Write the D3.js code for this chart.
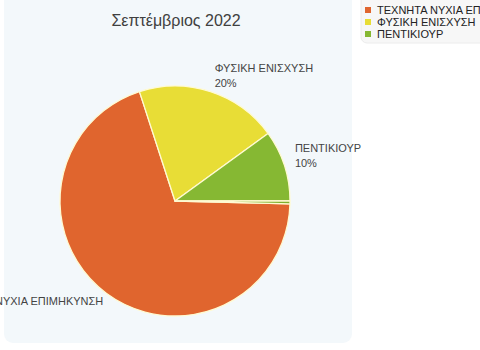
<!DOCTYPE html>
<html>
<head>
<meta charset="utf-8">
<script src="https://cdn.jsdelivr.net/npm/d3@7"></script>
<style>
  html, body { margin: 0; padding: 0; background: #ffffff; }
  svg { display: block; font-family: "Liberation Sans", Arial, sans-serif; }
</style>
</head>
<body>
<svg id="chart" width="480" height="350"></svg>
<script>
const title = "Σεπτέμβριος 2022";
const categories = ["ΤΕΧΝΗΤΑ ΝΥΧΙΑ ΕΠΙΜΗΚΥΝΣΗ", "ΦΥΣΙΚΗ ΕΝΙΣΧΥΣΗ", "ΠΕΝΤΙΚΙΟΥΡ", "ΑΛΛΑ"];
const values = [69.6, 20, 10, 0.4];
const colors = ["#e0652e", "#e8dd36", "#86b833", "#7fb02e"];
const legendCount = 3;

const svg = d3.select("#chart");

// background panel
svg.append("rect").attr("x", 4).attr("y", -8).attr("width", 348).attr("height", 351)
  .attr("rx", 9).attr("fill", "#f3f8fb");

// title
svg.append("text").attr("x", 176).attr("y", 26).attr("text-anchor", "middle")
  .attr("font-size", 16).attr("fill", "#404040").text(title);

const cx = 175, cy = 201, r = 115;
const total = d3.sum(values);
const lastIdx = values.length - 1;
const start = Math.PI / 2 + 2 * Math.PI * values[lastIdx] / total;
const pie = d3.pie().sort(null).value(d => d.v).startAngle(start).endAngle(start + 2 * Math.PI);
const data = categories.map((c, i) => ({ c, v: values[i], col: colors[i] }));
const arcs = pie(data);
const arc = d3.arc().innerRadius(0).outerRadius(r);

const g = svg.append("g").attr("transform", `translate(${cx},${cy})`);
g.selectAll("path").data(arcs).join("path")
  .attr("d", arc).attr("fill", d => d.data.col)
  .attr("stroke", "#fffad2").attr("stroke-width", 1.3).attr("stroke-linejoin", "round");

// labels
const R = 125;
arcs.forEach(a => {
  const pct = a.data.v / total * 100;
  if (pct < 1) return;
  const m = (a.startAngle + a.endAngle) / 2;
  const ax = Math.sin(m) * R, ay = -Math.cos(m) * R;
  const right = Math.sin(m) >= 0;
  const upper = Math.cos(m) > 0;
  const lines = [a.data.c, Math.round(pct) + "%"];
  const t = g.append("text").attr("font-size", 11).attr("fill", "#444");
  const tmp = g.append("text").attr("font-size", 11).text(lines[0]);
  const bw = Math.max(tmp.node().getComputedTextLength(), 0);
  tmp.remove();
  const x0 = right ? ax + 1 : ax + 3 - bw;
  const firstBase = upper ? ay + 5 - 15 * (lines.length - 1) : ay + 4;
  lines.forEach((ln, i) => {
    t.append("tspan").attr("x", x0).attr("y", firstBase + i * 15).text(ln);
  });
});

// legend
const lg = svg.append("g");
lg.append("rect").attr("x", 361).attr("y", -8).attr("width", 140).attr("height", 51)
  .attr("rx", 6).attr("fill", "#f7f7f7").attr("stroke", "#ececec");
data.slice(0, legendCount).forEach((d, i) => {
  const y = 10 + i * 12;
  lg.append("rect").attr("x", 365).attr("y", y - 3).attr("width", 6).attr("height", 6).attr("fill", d.col);
  lg.append("text").attr("x", 377).attr("y", y + 4).attr("font-size", 11).attr("fill", "#222").text(d.c);
});
</script>
</body>
</html>
